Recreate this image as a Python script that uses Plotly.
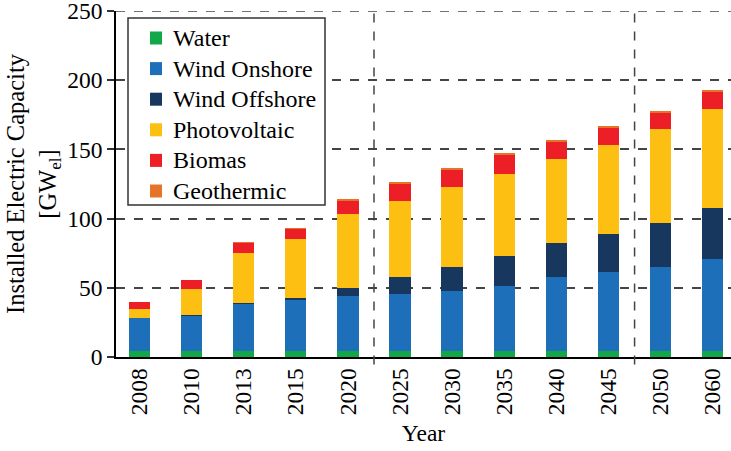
import plotly.graph_objects as go

years = ["2008", "2010", "2013", "2015", "2020", "2025", "2030", "2035", "2040", "2045", "2050", "2060"]
water = [4.5, 4.5, 4.5, 4.5, 4.5, 4.5, 4.5, 4.5, 4.5, 4.5, 4.5, 4.5]
wind_onshore = [23.5, 25.8, 34.0, 37.2, 39.6, 41.0, 43.4, 47.0, 53.1, 57.1, 60.3, 66.1]
wind_offshore = [0.0, 0.2, 0.5, 0.9, 6.0, 12.5, 16.9, 21.5, 24.5, 27.3, 31.8, 36.8]
photovoltaic = [6.5, 18.7, 36.0, 42.4, 53.0, 54.7, 58.2, 59.2, 60.7, 64.3, 67.9, 71.5]
biomass = [5.3, 6.6, 7.7, 7.7, 10.3, 12.8, 12.6, 14.3, 13.0, 12.8, 12.3, 12.8]
geothermal = [0.0, 0.0, 0.1, 0.1, 0.3, 0.7, 0.7, 0.7, 0.8, 0.7, 0.7, 0.7]

series = [
    ("Water", water, "#12a84a"),
    ("Wind Onshore", wind_onshore, "#1e6fb9"),
    ("Wind Offshore", wind_offshore, "#18375f"),
    ("Photovoltaic", photovoltaic, "#fcbf12"),
    ("Biomas", biomass, "#ec1f27"),
    ("Geothermic", geothermal, "#e5742a"),
]

serif = "Liberation Serif"

fig = go.Figure()
for name, vals, col in series:
    fig.add_trace(go.Bar(x=list(range(len(years))), y=vals, name=name,
                         marker=dict(color=col, line=dict(width=0)),
                         width=0.41, showlegend=False))

# dashed separators + top line
for xv in [4.5, 9.5]:
    fig.add_shape(type="line", xref="x", yref="paper", x0=xv, x1=xv, y0=-0.022, y1=1,
                  line=dict(color="#444", width=1.5, dash="dash"))
fig.add_shape(type="line", xref="paper", yref="y", x0=0, x1=1, y0=250, y1=250,
              line=dict(color="#444", width=1.5, dash="dash"))

# legend box, drawn by hand so entries sit as tight as in the original
pw, ph = 615.0, 346.0   # plot area in px
def px(x): return (x - 116) / pw
def py(y): return 1 - (y - 11) / ph

fig.add_shape(type="rect", xref="paper", yref="paper",
              x0=px(128), x1=px(325), y0=py(205), y1=py(18),
              line=dict(color="#333", width=1.5), fillcolor="white", layer="above")
for i, (name, vals, col) in enumerate(series):
    yc = 38 + i * 30.6
    fig.add_shape(type="rect", xref="paper", yref="paper",
                  x0=px(150), x1=px(162), y0=py(yc + 6.5), y1=py(yc - 6.5),
                  line=dict(width=0), fillcolor=col, layer="above")
    fig.add_annotation(xref="paper", yref="paper", x=px(171), y=py(yc),
                       xanchor="left", yanchor="middle", text=name, showarrow=False,
                       font=dict(family=serif, size=24, color="black"))

fig.update_layout(
    width=731, height=451,
    margin=dict(l=116, r=0, t=11, b=94, autoexpand=False),
    barmode="stack",
    paper_bgcolor="white", plot_bgcolor="white",
    font=dict(family=serif, size=23.5, color="black"),
    showlegend=False,
    xaxis=dict(
        range=[-0.45, 11.35], automargin=False,
        tickmode="array", tickvals=list(range(len(years))), ticktext=years,
        tickfont=dict(family=serif, size=23.5, color="black"),
        tickangle=-90, showline=True, linecolor="black", linewidth=1.5,
        ticks="", showgrid=False, zeroline=False,
        title=dict(text="Year", standoff=10, font=dict(family=serif, size=23.5)),
    ),
    yaxis=dict(
        range=[0, 250.01], tickvals=[0, 50, 100, 150, 200, 250], automargin=False,
        tickfont=dict(family=serif, size=23.5, color="black"),
        ticklabeloverflow="allow",
        showline=True, linecolor="black", linewidth=1.5,
        ticks="outside", ticklen=7, tickwidth=1.5, tickcolor="#333",
        showgrid=True, gridcolor="#444", gridwidth=1.5, griddash="dash",
        zeroline=False,
        title=dict(text="Installed Electric Capacity<br>[GW<sub>el</sub>]", standoff=4,
                   font=dict(family=serif, size=24.5)),
    ),
)

# page body has a default 8px margin; remove it so the figure sits at the window origin
fig.write_html("out.html", config={"displayModeBar": False},
               post_script="document.body.style.margin='0';")
